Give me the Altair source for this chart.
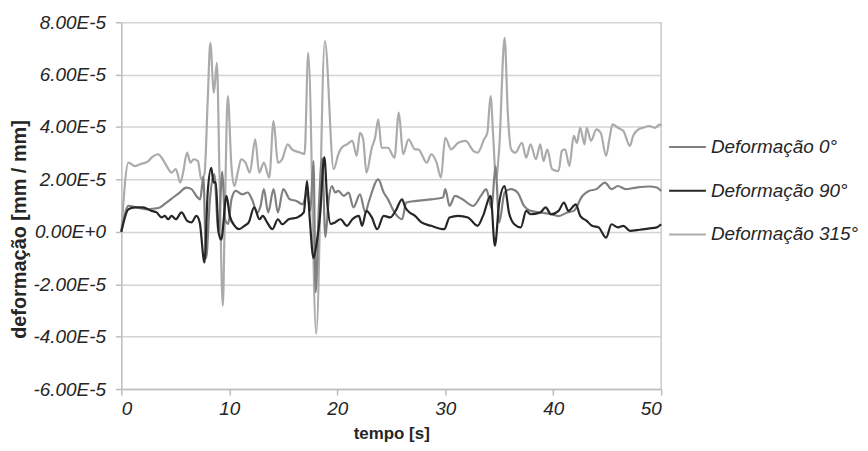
import altair as alt
import pandas as pd

# values in units of 1E-5 mm/mm
series_names = ["Deformação 0°", "Deformação 90°", "Deformação 315°"]
series_colors = ["#808080", "#262626", "#ababab"]

t_315 = [0, 0.66, 1.27, 1.73, 2.5, 2.8, 3.42, 3.73, 4.2, 4.65, 5.05, 5.47, 5.72, 6.09, 6.4, 6.7, 7.1, 7.4,
         7.7, 8.0, 8.24, 8.57, 8.85, 9.1, 9.4, 9.6, 9.86, 10.2, 10.47, 10.8, 11.1, 11.5, 11.9, 12.4, 12.77,
         13.2, 13.7, 14.1, 14.5, 14.9, 15.4, 15.8, 16.6, 16.97, 17.31, 18.05, 18.85, 19.67, 20.1, 20.4, 20.9,
         21.4, 21.8, 22.1, 22.4, 22.7, 23.2, 23.5, 23.8, 24.1, 24.7, 25.3, 25.7, 26.1, 26.6, 27.2, 27.5, 28.3,
         28.7, 29.2, 29.6, 30.0, 30.55, 31.2, 31.9, 32.6, 33.0, 33.6, 33.9, 34.2, 34.45, 34.7, 35.0, 35.5,
         35.8, 36.1, 36.5, 37.1, 37.5, 37.9, 38.4, 38.8, 39.1, 39.45, 39.9, 40.5, 40.8, 41.1, 41.5, 41.9,
         42.2, 42.5, 42.9, 43.1, 43.5, 44.0, 44.4, 44.9, 45.2, 45.5, 46.0, 46.5, 47.1, 47.4, 47.9, 48.3,
         48.9, 49.4, 49.9, 50.0]
v_315 = [0, 2.64, 2.51, 2.58, 2.7, 2.83, 2.96, 2.83, 2.51, 2.26, 2.39, 1.88, 2.26, 3.02, 2.64, 2.77, 2.7, 2.0,
         2.2, 5.0, 7.21, 5.31, 6.45, 2.0, -2.82, 1.0, 5.18, 2.5, 1.75, 2.3, 2.77, 2.64, 2.26, 3.53, 2.26,
         2.64, 2.07, 4.23, 2.64, 2.77, 3.34, 3.15, 3.02, 2.96, 6.83, -3.9, 7.28, 2.39, 2.96, 3.21, 3.34,
         3.47, 2.9, 3.78, 3.53, 2.26, 3.21, 3.59, 4.29, 3.21, 3.21, 2.83, 4.55, 2.96, 3.53, 3.15, 3.15, 2.64,
         2.96, 2.64, 2.07, 3.59, 3.15, 3.4, 3.47, 3.09, 3.02, 3.53, 3.78, 5.18, 3.6, 2.0, 3.2, 7.4,
         4.5, 3.15, 3.02, 3.4, 2.83, 3.34, 2.77, 3.34, 2.7, 3.15, 2.39, 2.32, 3.09, 3.15, 2.51, 3.66,
         3.4, 3.97, 3.34, 3.97, 3.47, 3.91, 3.78, 2.9, 3.53, 4.1, 3.97, 3.85, 3.28, 3.66, 3.91, 3.97,
         4.04, 3.97, 4.1, 4.05]

t_0 = [0, 0.66, 1.43, 2.35, 3.1, 3.57, 4.2, 4.8, 5.4, 6.0, 6.5, 6.95, 7.3, 7.6, 7.85, 8.2, 8.6, 9.0, 9.35,
       9.6, 9.9, 10.2, 10.6, 11.2, 11.7, 12.1, 12.6, 12.9, 13.2, 13.6, 14.1, 14.5, 15.0, 15.6, 16.2, 16.8,
       17.2, 17.5, 17.8, 18.0, 18.3, 18.6, 18.9, 19.2, 19.5, 19.8, 20.1, 20.6, 21.05, 21.5, 22.1, 22.6,
       22.9, 23.8, 24.3, 24.7, 25.3, 26.0, 26.4, 27.3, 28.7, 29.8, 30.0, 30.4, 30.9, 31.6, 32.6, 33.3,
       33.8, 34.3, 34.65, 35.0, 35.5, 36.1, 36.7, 37.3, 37.9, 38.8, 39.8, 40.5, 41.3, 41.9, 42.7, 43.3,
       44.0, 44.8, 45.4, 46.0, 46.7, 47.7, 48.9, 49.6, 50.0]
v_0 = [0, 0.99, 0.93, 0.86, 0.89, 0.93, 1.12, 1.31, 1.5, 1.69, 1.63, 1.37, 1.24, 2.1, -1.0, 1.2, 2.2, 0.0, 2.3,
       0.5, 0.3, 1.24, 1.56, 1.43, 1.5, 1.24, 0.74, 0.99, 1.63, 0.74, 1.63, 0.74, 1.63, 1.24, 1.18, 1.05,
       1.5, 0.8, 2.7, -2.3, 1.0, 2.8, -0.2, 1.2, 1.75, 1.5, 1.56, 1.37, 1.5, 0.93, 1.43, 0.74,
       1.12, 2.0, 1.5, 1.24, 0.74, 0.48, 1.12, 1.18, 1.24, 1.31, 1.63, 0.99, 1.37, 1.24, 0.99, 1.37,
       1.63, 0.9, 2.5, 0.36, 1.5, 1.63, 1.5, 0.99, 0.8, 0.74, 0.67, 0.6, 0.74, 0.8, 1.37, 1.56,
       1.63, 1.88, 1.63, 1.75, 1.63, 1.69, 1.73, 1.69, 1.56]

t_90 = [0, 0.66, 1.27, 2.0, 2.8, 3.27, 3.73, 4.03, 4.34, 4.65, 5.05, 5.57, 6.1, 6.5, 6.95, 7.26, 7.7, 8.0,
        8.33, 8.54, 8.75, 9.0, 9.25, 9.74, 10.05, 10.5, 10.9, 11.4, 11.8, 12.3, 12.8, 13.1, 13.5, 14.0,
        14.5, 14.9, 15.5, 16.3, 16.9, 17.2, 17.45, 17.8, 18.1, 18.4, 18.8, 19.1, 19.4, 19.8, 20.3, 20.9,
        21.4, 22.0, 22.3, 22.7, 23.2, 23.7, 24.3, 24.9, 25.4, 26.0, 26.3, 26.7, 27.2, 27.8, 28.7, 29.9,
        30.4, 31.2, 32.1, 33.0, 33.5, 34.2, 34.6, 35.0, 35.5, 35.9, 36.4, 37.0, 37.5, 37.9, 38.8, 39.3,
        39.8, 40.5, 41.0, 41.4, 42.1, 42.5, 43.1, 43.6, 44.2, 44.9, 45.4, 46.0, 46.5, 47.1, 48.0, 48.9,
        49.6, 50.0]
v_90 = [0, 0.86, 0.93, 0.93, 0.8, 0.74, 0.55, 0.61, 0.48, 0.61, 0.48, 0.74, 0.42, 0.36, 0.61, 0.36, -1.17, 1.5,
        2.44, 1.88, 1.9, 0.0, -0.3, 1.37, 0.6, 0.23, 0.1, 0.23, 0.36, 0.93, 0.48, 0.61, 0.36, 0.1,
        0.48, 0.29, 0.48, 0.55, 0.74, 1.94, 0.5, -1.0, -0.4, 0.6, 2.85, 1.0, 0.3, 0.36, 0.48, 0.23,
        0.48, 0.61, 0.23, 0.8, 0.55, 0.1, 0.61, 0.55, 0.8, 1.24, 0.93, 0.74, 0.61, 0.36, 0.23, 0.1,
        0.55, 0.61, 0.55, 0.23, 0.61, 1.37, -0.53, 1.12, 1.75, 0.74, 0.29, 0.17, 0.8, 0.67, 0.74, 0.93,
        0.67, 0.8, 1.12, 0.8, 1.05, 0.61, 0.42, 0.23, 0.17, -0.22, 0.29, 0.17, 0.23, 0.04, 0.08, 0.13,
        0.17, 0.29]

y_ticks = [-6, -4, -2, 0, 2, 4, 6, 8]
x_ticks = [0, 10, 20, 30, 40, 50]

rows = []
for name, ts, vs in [(series_names[2], t_315, v_315), (series_names[0], t_0, v_0), (series_names[1], t_90, v_90)]:
    for i, (t, v) in enumerate(zip(ts, vs)):
        rows.append({"serie": name, "tempo": t, "def": v, "i": i})
df = pd.DataFrame(rows)

FONT = "Liberation Sans"
TXT = "#262626"

lines = alt.Chart(df).mark_line(strokeWidth=2.2, interpolate="monotone").encode(
    x=alt.X("tempo:Q", scale=alt.Scale(domain=[0, 50], nice=False),
            axis=alt.Axis(values=x_ticks, title="tempo [s]", grid=False, tickSize=6,
                          labelPadding=5, titlePadding=7, titleFontSize=17)),
    y=alt.Y("def:Q", scale=alt.Scale(domain=[-6, 8], nice=False),
            axis=alt.Axis(values=y_ticks, title="deformação [mm / mm]", tickSize=6, labelPadding=10,
                          labelExpr="datum.value == 0 ? '0.00E+0' : (datum.value < 0 ? '-' : '') + format(abs(datum.value), '.2f') + 'E-5'",
                          titleFontSize=20, titleX=-102, titleY=208, titleBaseline="middle",
                          titleAlign="center", titleAngle=270)),
    color=alt.Color("serie:N", scale=alt.Scale(domain=series_names, range=series_colors),
                    legend=alt.Legend(title=None, orient="none", legendX=550, legendY=106,
                                      symbolType="stroke", symbolSize=1369, symbolStrokeWidth=2,
                                      labelFontSize=19, labelFont=FONT, labelFontStyle="italic",
                                      labelColor=TXT, labelOffset=4, rowPadding=14, padding=0)),
    order="i:Q",
)

right_border = alt.Chart(pd.DataFrame({"x": [50]})).mark_rule(color="#c8c8c8", strokeWidth=1.5).encode(
    x="x:Q"
)

chart = alt.layer(right_border, lines).properties(
    width=543, height=369,
    autosize=alt.AutoSizeParams(type="none"),
    padding={"left": 114, "top": 13, "right": 200, "bottom": 58},
).configure_view(stroke=None).configure_axis(
    labelFont=FONT, labelFontStyle="italic", labelFontSize=19, labelColor=TXT,
    titleFont=FONT, titleFontWeight="bold", titleColor=TXT,
    domainColor="#bdbdbd", domainWidth=1.5, tickColor="#bdbdbd", tickWidth=1.5,
    gridColor="#d4d4d4", gridWidth=1.5,
)

chart.save("out.html", embed_options={"renderer": "svg", "actions": False})
